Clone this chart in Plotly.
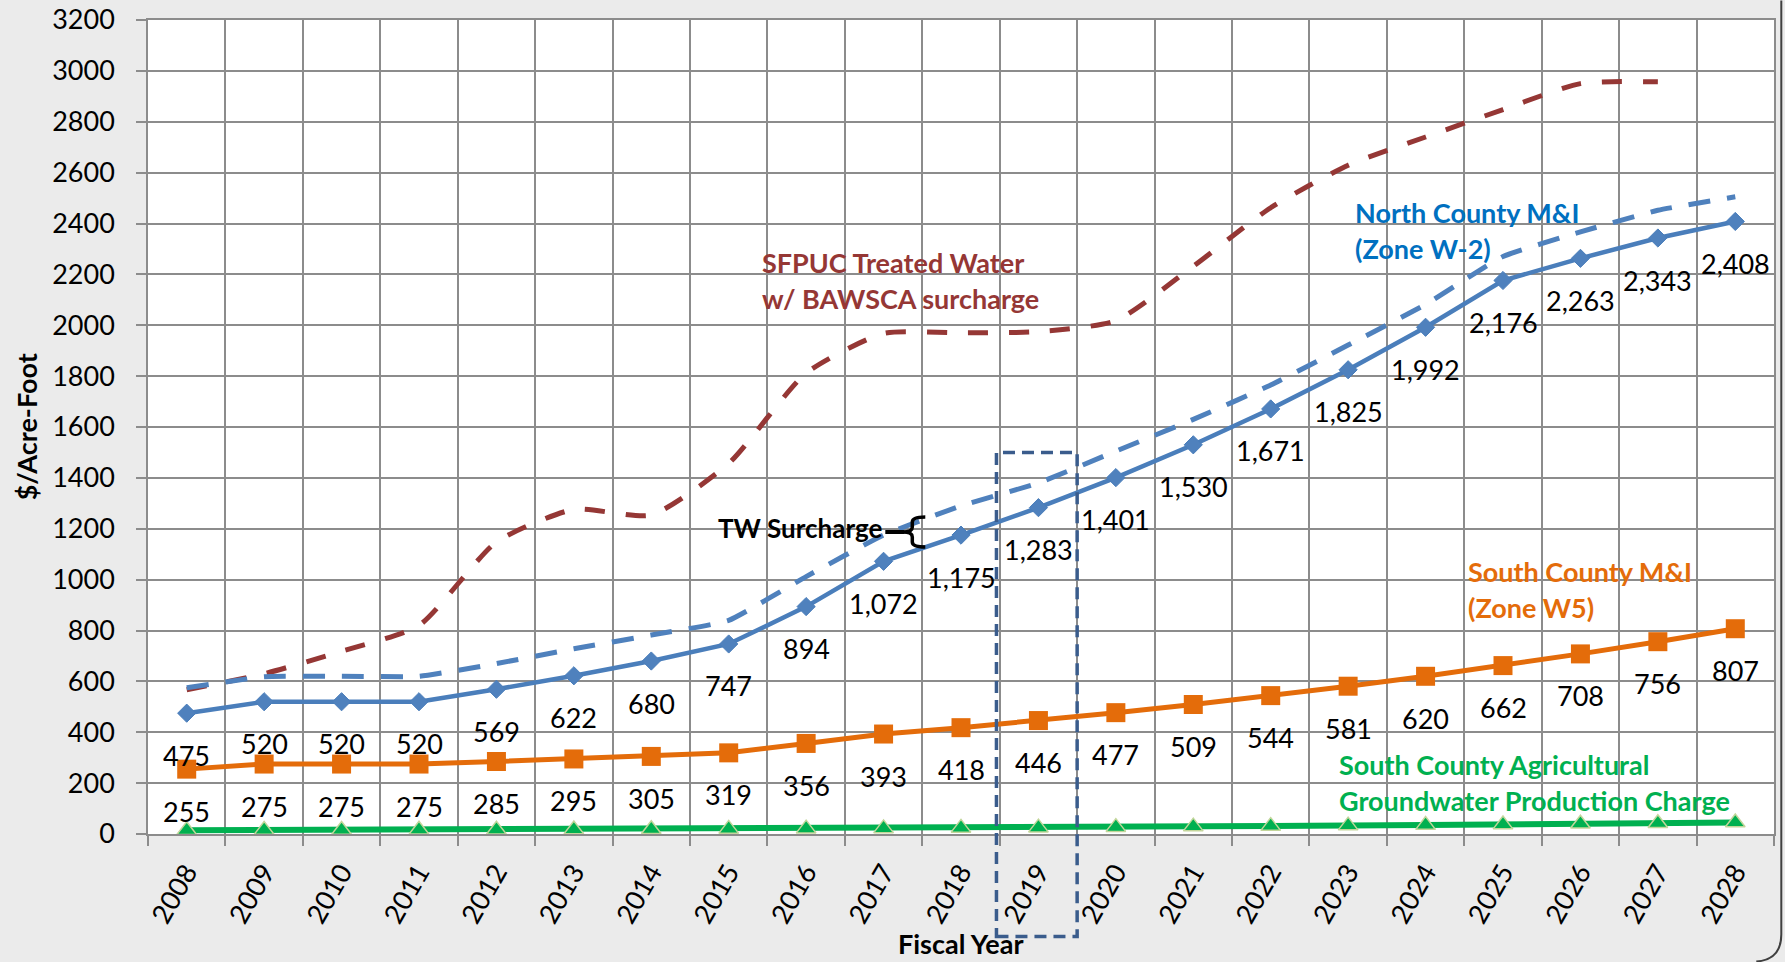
import plotly.graph_objects as go

# ---------------- data ----------------
years = [str(y) for y in range(2008, 2029)]

north_mi = [475, 520, 520, 520, 569, 622, 680, 747, 894, 1072, 1175, 1283,
            1401, 1530, 1671, 1825, 1992, 2176, 2263, 2343, 2408]
north_mi_tw = [575, 618, 620, 620, 670, 728, 782, 840, 1012, 1175, 1290, 1380,
               1505, 1630, 1765, 1922, 2082, 2270, 2367, 2452, 2505]
south_mi = [255, 275, 275, 275, 285, 295, 305, 319, 356, 393, 418, 446,
            477, 509, 544, 581, 620, 662, 708, 756, 807]
south_ag = [15, 16, 16, 17, 17, 18, 19, 20, 21, 22, 24, 25,
            27, 29, 31, 33, 35, 37, 40, 42, 45]
sfpuc_years = years[:20]
sfpuc = [567, 630, 718, 820, 1148, 1276, 1254, 1457, 1812, 1968, 1970, 1975,
         2018, 2232, 2462, 2629, 2740, 2848, 2950, 2957]

y_ticks = list(range(0, 3201, 200))

# ---------------- styling ----------------
FONT = "Lato"
W, H = 1785, 962
L, R, T, B = 147.7, 1773.7, 19.5, 834.3
PW, PH = R - L, B - T
YMAX = 3200
NCAT = len(years)
BOLD = 27


def xp(px):
    return (px - L) / PW


def yp(py):
    return (B - py) / PH


def cat_paper(i):
    return (i + 0.5) / NCAT


def val_paper(v):
    return v / YMAX


fig = go.Figure()

fig.add_trace(go.Scatter(
    x=sfpuc_years, y=sfpuc, mode="lines",
    line=dict(color="#953735", width=5, dash="20px,21px", shape="spline", smoothing=0.6),
    hoverinfo="skip"))

fig.add_trace(go.Scatter(
    x=years, y=north_mi_tw, mode="lines",
    line=dict(color="#4F81BD", width=5, dash="22px,17px", shape="spline", smoothing=0.4),
    hoverinfo="skip"))

fig.add_trace(go.Scatter(
    x=years, y=south_ag, mode="lines+markers",
    line=dict(color="#00B050", width=6),
    marker=dict(symbol="triangle-up", size=17, color="#00B050",
                line=dict(color="#C3D69B", width=1.5))))

fig.add_trace(go.Scatter(
    x=years, y=south_mi, mode="lines+markers",
    line=dict(color="#E46C0A", width=5),
    marker=dict(symbol="square", size=19, color="#E46C0A")))

fig.add_trace(go.Scatter(
    x=years, y=north_mi, mode="lines+markers",
    line=dict(color="#4A7EBB", width=4.5),
    marker=dict(symbol="diamond", size=14, color="#4F81BD",
                line=dict(color="#4A7EBB", width=1))))

annotations = []

# data labels (below markers); category axis annotations use the category index
for series in (north_mi, south_mi):
    for i, v in enumerate(series):
        annotations.append(dict(
            x=i, y=v, xref="x", yref="y", text=f"{v:,}", showarrow=False,
            yshift=-42, font=dict(family=FONT, size=27, color="#000000")))


def label(lines, left_px, first_center_py, color, spacing=36, size=BOLD):
    for k, t in enumerate(lines):
        annotations.append(dict(
            x=xp(left_px), y=yp(first_center_py + k * spacing), xref="paper", yref="paper",
            text=f"<b>{t}</b>", showarrow=False, xanchor="left", yanchor="middle",
            font=dict(family=FONT, size=size, color=color)))


label(["SFPUC Treated Water", "w/ BAWSCA surcharge"], 760, 262, "#953735")
label(["North County M&I", "(Zone W-2)"], 1353, 212, "#0070C0")
label(["South County M&I", "(Zone W5)"], 1466, 572, "#E46C0A")
label(["South County Agricultural", "Groundwater Production Charge"], 1337, 765, "#00B050")

annotations.append(dict(
    x=xp(885), y=yp(528), xref="paper", yref="paper", text="<b>TW Surcharge</b>",
    showarrow=False, xanchor="right", yanchor="middle",
    font=dict(family=FONT, size=BOLD - 1, color="#000000")))

# axis titles
annotations.append(dict(
    x=0.5, y=yp(944), xref="paper", yref="paper", text="<b>Fiscal Year</b>",
    showarrow=False, xanchor="center", yanchor="middle",
    font=dict(family=FONT, size=BOLD, color="#000000")))
annotations.append(dict(
    x=xp(26), y=0.5, xref="paper", yref="paper", text="<b>$/Acre-Foot</b>",
    showarrow=False, xanchor="center", yanchor="middle", textangle=-90,
    font=dict(family=FONT, size=BOLD, color="#000000")))

shapes = []
# dashed box around FY2019
i19 = years.index("2019")
shapes.append(dict(
    type="rect", xref="paper", yref="paper",
    x0=cat_paper(i19 - 0.5) - 0.002, x1=cat_paper(i19 + 0.5),
    y0=yp(937), y1=val_paper(1500),
    line=dict(color="#3A5C8C", width=3.5, dash="12px,7px"), fillcolor="rgba(0,0,0,0)"))


# TW surcharge brace
def P(px, py):
    return f"{xp(px):.5f},{yp(py):.5f}"


brace = (f"M {P(925,517)} Q {P(912,517)} {P(912,522)} L {P(912,527)} "
         f"Q {P(912,532)} {P(903,532)} Q {P(912,532)} {P(912,537)} "
         f"L {P(912,542)} Q {P(912,547)} {P(925,547)}")
shapes.append(dict(type="path", xref="paper", yref="paper", path=brace,
                   line=dict(color="#000000", width=3.5)))
shapes.append(dict(type="line", xref="paper", yref="paper",
                   x0=xp(885), x1=xp(904), y0=yp(532), y1=yp(532),
                   line=dict(color="#000000", width=4)))

# chart outer border (rounded corner at right)
border = f"M {P(1781,0)} L {P(1781,935)} Q {P(1781,960)} {P(1756,962)}"
shapes.append(dict(type="path", xref="paper", yref="paper", path=border,
                   line=dict(color="#404040", width=2)))

GRID = "#8C8C8C"
fig.update_layout(
    width=W, height=H,
    margin=dict(l=L, r=W - R, t=T, b=H - B, autoexpand=False),
    paper_bgcolor="#EBEBEB", plot_bgcolor="#FFFFFF",
    showlegend=False,
    font=dict(family=FONT, size=27, color="#000000"),
    annotations=annotations, shapes=shapes,
    xaxis=dict(type="category", categoryorder="array", categoryarray=years,
               tickson="boundaries", showgrid=True, gridcolor=GRID, gridwidth=1.5,
               ticks="outside", ticklen=10, tickcolor=GRID, tickwidth=1.5,
               tickangle=-60, showline=True, linecolor=GRID, linewidth=1.5, mirror=True,
               ticklabelstandoff=10,
               tickfont=dict(family=FONT, size=27, color="#000000"), range=[-0.5, 20.5]),
    yaxis=dict(range=[0, YMAX], tickvals=y_ticks, ticktext=[str(v) for v in y_ticks],
               showgrid=True, gridcolor=GRID, gridwidth=1.5, zeroline=False,
               ticks="outside", ticklen=10, tickcolor=GRID, tickwidth=1.5,
               showline=True, linecolor=GRID, linewidth=1.5, mirror=True,
               ticklabelstandoff=16,
               tickfont=dict(family=FONT, size=27, color="#000000")),
)

fig.write_html("out.html", config=dict(displayModeBar=False),
               post_script="document.body.style.margin='0';document.body.style.overflow='hidden';")
